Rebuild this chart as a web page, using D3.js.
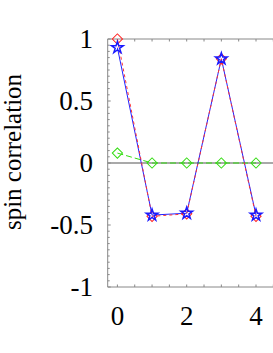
<!DOCTYPE html>
<html><head><meta charset="utf-8">
<script src="https://cdn.jsdelivr.net/npm/d3@7"></script>
<style>body{margin:0;background:#fff}svg{display:block}</style>
</head><body><svg id="c" width="273" height="353"></svg>
<script>
const xs = [0, 1, 2, 3, 4];
const redVals = [1.0, -0.43, -0.41, 0.84, -0.43];
const blueVals = [0.93, -0.42, -0.405, 0.84, -0.42];
const greenVals = [0.08, 0, 0, 0, 0];
const yTickVals = [1, 0.5, 0, -0.5, -1];
const yTickLabels = ["1", "0.5", "0", "-0.5", "-1"];
const xTickVals = [0, 2, 4];
const xTickLabels = ["0", "2", "4"];

const svg = d3.select("#c");
const L = 107.7, T = 39, B = 287;
const x = d3.scaleLinear().domain([-0.28, 5.3]).range([L, L + 5.58 * 34.65]);
const y = d3.scaleLinear().domain([-1, 1]).range([B, T]);
const R = x(5.3);
const axisCol = "#888";
const font = "'Liberation Serif', 'Times New Roman', serif";

// zero line
svg.append("line").attr("x1", L).attr("x2", R).attr("y1", y(0)).attr("y2", y(0))
  .attr("stroke", "#555").attr("stroke-width", 1.2);

// axes frame
const g = svg.append("g");
g.append("line").attr("x1", L).attr("x2", L).attr("y1", T).attr("y2", B).attr("stroke", axisCol);
g.append("line").attr("x1", L).attr("x2", R).attr("y1", T).attr("y2", T).attr("stroke", axisCol);
g.append("line").attr("x1", L).attr("x2", R).attr("y1", B).attr("y2", B).attr("stroke", axisCol);

const yMinor = d3.range(-1, 1.0001, 0.05);
g.selectAll(".ym").data(yMinor).enter().append("line")
  .attr("x1", L).attr("x2", d => L + (Math.abs(d * 2 - Math.round(d * 2)) < 1e-6 ? 3 : 2))
  .attr("y1", d => y(d)).attr("y2", d => y(d)).attr("stroke", axisCol);
const xMinor = d3.range(0, 5.01, 0.5);
g.selectAll(".xmb").data(xMinor).enter().append("line")
  .attr("x1", d => x(d)).attr("x2", d => x(d)).attr("y1", B).attr("y2", B - 2.5).attr("stroke", axisCol);
g.selectAll(".xmt").data(xMinor).enter().append("line")
  .attr("x1", d => x(d)).attr("x2", d => x(d)).attr("y1", T).attr("y2", T + 2.5).attr("stroke", axisCol);

// tick labels
svg.selectAll(".yl").data(yTickVals).enter().append("text")
  .attr("x", 93).attr("y", d => y(d)).attr("dy", "0.34em").attr("text-anchor", "end")
  .attr("font-family", font).attr("font-size", 27).attr("fill", "#000")
  .text((d, i) => yTickLabels[i]);
svg.selectAll(".xl").data(xTickVals).enter().append("text")
  .attr("x", d => x(d)).attr("y", 325).attr("text-anchor", "middle")
  .attr("font-family", font).attr("font-size", 27).attr("fill", "#000")
  .text((d, i) => xTickLabels[i]);
svg.append("text").attr("transform", "translate(21,152) rotate(-90)")
  .attr("text-anchor", "middle").attr("font-family", font).attr("font-size", 25)
  .attr("fill", "#000").text("spin correlation");

const line = d3.line().x(d => x(d[0])).y(d => y(d[1]));
const zip = vals => xs.map((v, i) => [v, vals[i]]);

// green
svg.append("path").attr("d", line(zip(greenVals))).attr("fill", "none")
  .attr("stroke", "#33dd11").attr("stroke-width", 1).attr("stroke-dasharray", "6,3");
// blue solid
svg.append("path").attr("d", line(zip(blueVals))).attr("fill", "none")
  .attr("stroke", "#2222ff").attr("stroke-width", 1);
// red dashed
svg.append("path").attr("d", line(zip(redVals))).attr("fill", "none")
  .attr("stroke", "#ff3333").attr("stroke-width", 1).attr("stroke-dasharray", "3,3");

const diamond = d3.symbol().type(d3.symbolSquare).size(52)();
svg.selectAll(".gd").data(zip(greenVals)).enter().append("path")
  .attr("d", diamond).attr("transform", d => `translate(${x(d[0])},${y(d[1])}) rotate(45)`)
  .attr("fill", "none").attr("stroke", "#33dd11").attr("stroke-width", 1);
svg.selectAll(".rd").data(zip(redVals)).enter().append("path")
  .attr("d", diamond).attr("transform", d => `translate(${x(d[0])},${y(d[1])}) rotate(45)`)
  .attr("fill", "none").attr("stroke", "#ff2222").attr("stroke-width", 1);
const star = d3.symbol().type(d3.symbolStar).size(42)();
svg.selectAll(".bs").data(zip(blueVals)).enter().append("path")
  .attr("d", star).attr("transform", d => `translate(${x(d[0])},${y(d[1])})`)
  .attr("fill", "none").attr("stroke", "#1a1aff").attr("stroke-width", 1.5);
</script></body></html>
